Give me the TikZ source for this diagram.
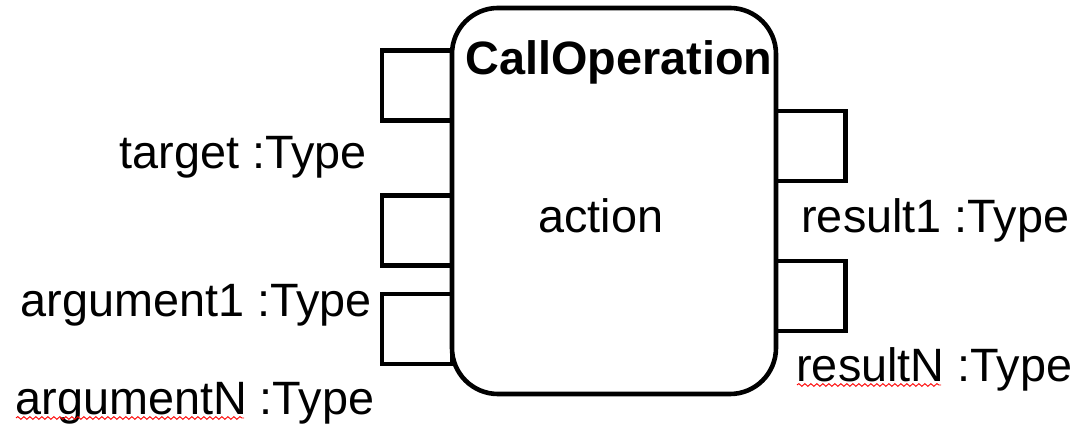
\documentclass[tikz,border=0pt]{standalone}
\usepackage{fontspec}
\setmainfont{Liberation Sans}
\usetikzlibrary{decorations.pathmorphing}
\begin{document}
\begin{tikzpicture}[x=0.5bp,y=-0.5bp,
  pinbox/.style={draw,line width=2.3bp,minimum width=35bp,minimum height=35bp,inner sep=0pt},
  mainbox/.style={draw,line width=2.3bp,fill=white,rounded corners=23bp,minimum width=162bp,minimum height=193bp,inner sep=0pt},
  lbl/.style={font=\fontsize{23.4bp}{27bp}\selectfont,inner sep=0pt},
  squig/.style={draw=red,line width=0.45bp,decorate,decoration={snake,amplitude=0.7bp,segment length=3bp}}]
\useasboundingbox (0,0) rectangle (1080,431);
\node[pinbox] (pt) at (417,85.5) {};
\node[pinbox] (pa1) at (417,230.5) {};
\node[pinbox] (paN) at (417,329) {};
\node[pinbox] (pr1) at (810.5,146) {};
\node[pinbox] (prN) at (810.5,296) {};
\node[mainbox] (act) at (614,201) {};
\node[lbl,anchor=base,font=\fontsize{23.4bp}{27bp}\selectfont\bfseries] (title) at (619,75) {CallOperation};
\node[lbl,anchor=base] (action) at (601,233) {action};
\node[lbl,anchor=base west] (lt) at (119,169) {target :Type};
\node[lbl,anchor=base west] (la1) at (20,317) {argument1 :Type};
\node[lbl,anchor=base west] (laN) at (15,415) {argumentN :Type};
\node[lbl,anchor=base west] (lr1) at (801,233) {result1 :Type};
\node[lbl,anchor=base west] (lrN) at (796,382) {resultN :Type};
\coordinate (s1a) at (16,418);
\coordinate (s1b) at (244,418);
\coordinate (s2a) at (797,385);
\coordinate (s2b) at (941,385);
\draw[squig] (s1a) -- (s1b);
\draw[squig] (s2a) -- (s2b);
\end{tikzpicture}
\end{document}
